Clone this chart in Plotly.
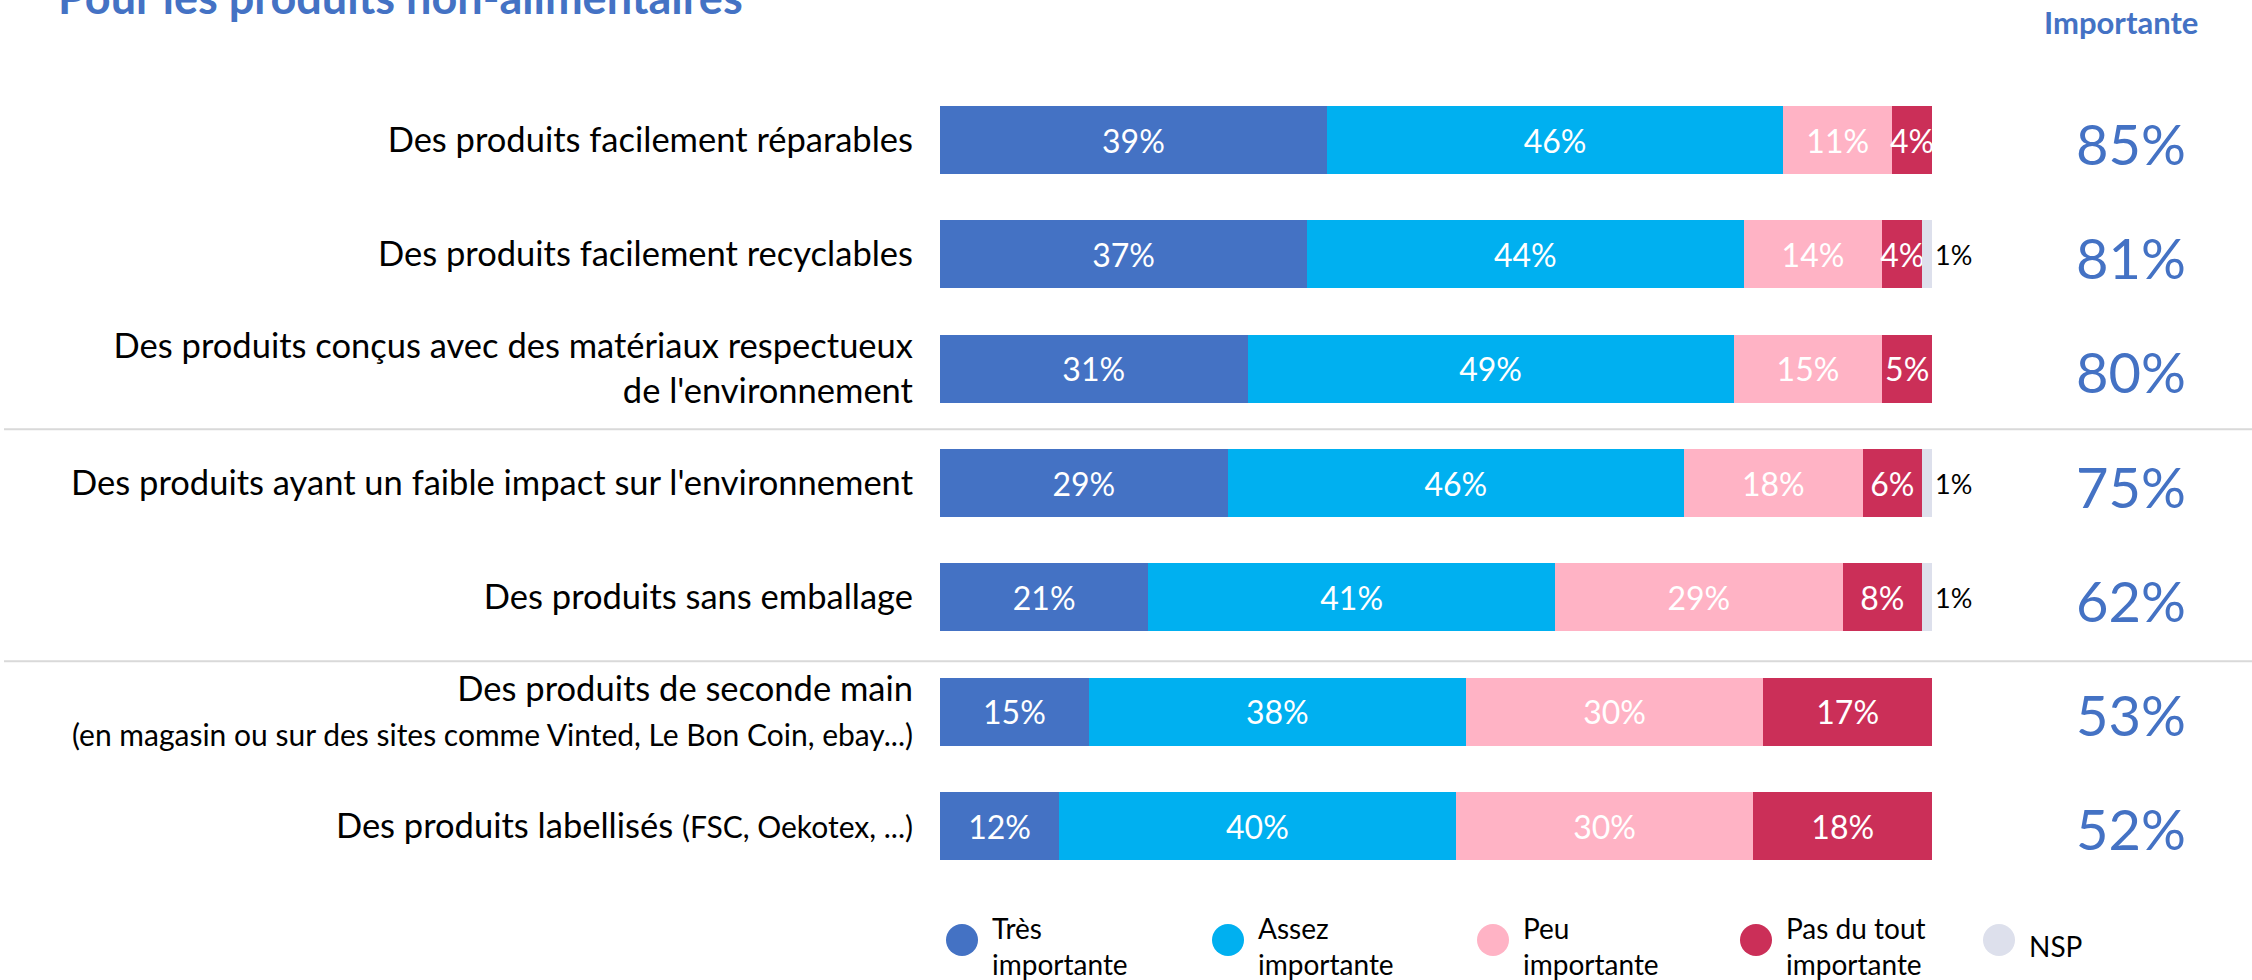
import plotly.graph_objects as go

# ---------------- data ----------------
categories = [
    "Des produits facilement réparables",
    "Des produits facilement recyclables",
    "Des produits conçus avec des matériaux respectueux<br>de l'environnement",
    "Des produits ayant un faible impact sur l'environnement",
    "Des produits sans emballage",
    "Des produits de seconde main<br><span style='font-size:30px'>(en magasin ou sur des sites comme Vinted, Le Bon Coin, ebay...)</span>",
    "Des produits labellisés <span style='font-size:30px'>(FSC, Oekotex, ...)</span>",
]
tres_importante = [39, 37, 31, 29, 21, 15, 12]
assez_importante = [46, 44, 49, 46, 41, 38, 40]
peu_importante = [11, 14, 15, 18, 29, 30, 30]
pas_du_tout = [4, 4, 5, 6, 8, 17, 18]
nsp = [None, 1, None, 1, 1, None, None]
total_importante = [85, 81, 80, 75, 62, 53, 52]

series_names = ["Très importante", "Assez importante", "Peu importante", "Pas du tout importante", "NSP"]
legend_labels = ["Très<br>importante", "Assez<br>importante", "Peu<br>importante", "Pas du tout<br>importante", "NSP"]
series_colors = ["#4472C4", "#00B0F0", "#FFB3C5", "#CB2F58", "#DDE0EC"]
title_text = "Pour les produits non-alimentaires"
column_header = "Importante"

# ---------------- layout constants ----------------
W, H = 2252, 980
FONT = "Lato, 'Open Sans', sans-serif"
BLUE = "#4472C4"

fig = go.Figure()

all_series = [tres_importante, assez_importante, peu_importante, pas_du_tout, nsp]
for i, (name, vals, col) in enumerate(zip(series_names, all_series, series_colors)):
    is_nsp = name == "NSP"
    txt = [(f"{v}%" if v else "") for v in vals]
    fig.add_trace(go.Bar(
        y=categories, x=vals, name=name, orientation="h",
        marker=dict(color=col, line=dict(width=0)),
        text=txt,
        textposition="outside" if is_nsp else "inside",
        insidetextanchor="middle",
        constraintext="none",
        textangle=0,
        textfont=dict(family=FONT, size=27 if is_nsp else 32,
                      color="black" if is_nsp else "white"),
        cliponaxis=False,
        width=0.595,
        showlegend=False,
        hoverinfo="skip",
    ))

# custom legend (circles) on an overlay axis placed in the legend strip
legend_px = [962, 1228, 1493, 1756, 1999]
legend_y = 1 - 940 / H
LEG_TOP = 0.09
fig.add_trace(go.Scatter(
    x=[p / W for p in legend_px], y=[legend_y] * len(legend_px),
    mode="markers", xaxis="x2", yaxis="y2",
    marker=dict(size=32, color=series_colors, symbol="circle", line=dict(width=0)),
    showlegend=False, hoverinfo="skip", cliponaxis=False,
))

annotations = []
for p, lab in zip(legend_px, legend_labels):
    annotations.append(dict(
        x=(p + 28) / W, y=1 - 946 / H, xref="paper", yref="paper",
        text=lab, showarrow=False, xanchor="left", yanchor="middle", align="left",
        font=dict(family=FONT, size=28, color="black"),
    ))

# right column: header + totals
annotations.append(dict(
    x=2121 / W, y=1 - 22 / H, xref="paper", yref="paper", text=f"<b>{column_header}</b>",
    showarrow=False, xanchor="center", yanchor="middle",
    font=dict(family=FONT, size=31, color=BLUE),
))
for cat, tot in zip(categories, total_importante):
    annotations.append(dict(
        x=2131 / W, y=cat, xref="paper", yref="y", text=f"{tot}%",
        showarrow=False, xanchor="center", yanchor="middle", yshift=-3,
        font=dict(family=FONT, size=56, color=BLUE),
    ))

# title (partially cut at top, as in the reference)
annotations.append(dict(
    x=56 / W, y=1, xref="paper", yref="paper", text=f"<b>{title_text}</b>",
    showarrow=False, xanchor="left", yanchor="middle", yshift=3,
    font=dict(family=FONT, size=45, color=BLUE),
))

shapes = []
for ypos in [2.53, 4.56]:
    shapes.append(dict(type="line", xref="paper", yref="y", x0=4 / W, x1=1,
                       y0=ypos, y1=ypos, line=dict(color="#D9D9D9", width=2)))

row_px = 114.33
top_px = 140 - row_px / 2
bot_px = 826 + row_px / 2

fig.update_layout(
    width=W, height=H,
    margin=dict(l=0, r=0, t=0, b=0),
    paper_bgcolor="white", plot_bgcolor="rgba(0,0,0,0)",
    barmode="stack",
    xaxis=dict(domain=[940 / W, 1932 / W], range=[0, 100], visible=False, fixedrange=True),
    yaxis=dict(
        domain=[1 - bot_px / H, 1 - top_px / H],
        type="category", categoryorder="array", categoryarray=categories,
        range=[6.5, -0.5],
        showgrid=False, zeroline=False, showline=False, ticks="",
        ticklabelstandoff=26,
        tickfont=dict(family=FONT, size=34.5, color="black"),
        fixedrange=True,
    ),
    xaxis2=dict(domain=[0, 1], range=[0, 1], visible=False, anchor="y2", fixedrange=True),
    yaxis2=dict(domain=[0, LEG_TOP], range=[0, LEG_TOP], visible=False, anchor="x2", fixedrange=True),
    annotations=annotations,
    shapes=shapes,
    font=dict(family=FONT),
)

fig.write_html("out.html")
